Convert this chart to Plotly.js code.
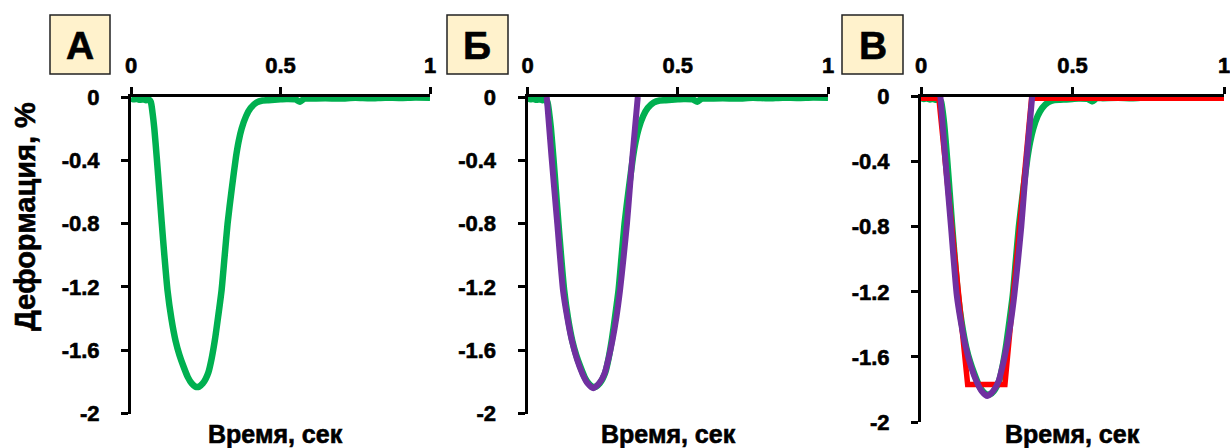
<!DOCTYPE html>
<html>
<head>
<meta charset="utf-8">
<script src="https://cdn.plot.ly/plotly-3.0.1.min.js"></script>
<style>
  html, body { margin: 0; padding: 0; background: #ffffff; }
  #chart { width: 1230px; height: 448px; }
  /* heavier black lettering */
  #chart text { stroke: #000; stroke-width: 0.6px; }
</style>
</head>
<body>
<div id="chart"></div>
<script>
// Measured strain curve (time, s / deformation, %)
const strainTime = [0.000, 0.010, 0.020, 0.030, 0.040, 0.050, 0.058, 0.066, 0.072, 0.078,
  0.086, 0.095, 0.103, 0.112, 0.122, 0.135, 0.149, 0.162, 0.175, 0.190,
  0.203, 0.215, 0.228, 0.240, 0.250, 0.259, 0.270, 0.281, 0.292, 0.303,
  0.313, 0.323, 0.337, 0.351, 0.360, 0.370, 0.385, 0.400, 0.420, 0.440,
  0.460, 0.480, 0.500, 0.520, 0.550, 0.565, 0.580, 0.600, 0.650, 0.700,
  0.750, 0.800, 0.850, 0.900, 0.950, 1.000];
const strainValue = [-0.010, -0.015, -0.012, -0.018, -0.015, -0.020, -0.015, -0.030, -0.100, -0.200,
  -0.380, -0.600, -0.800, -1.010, -1.220, -1.400, -1.540, -1.630, -1.700, -1.770,
  -1.810, -1.830, -1.830, -1.810, -1.780, -1.740, -1.650, -1.530, -1.380, -1.220,
  -1.010, -0.800, -0.580, -0.380, -0.280, -0.200, -0.120, -0.070, -0.035, -0.022,
  -0.020, -0.018, -0.015, -0.012, -0.015, -0.030, -0.010, -0.010, -0.008, -0.010,
  -0.005, -0.008, -0.004, -0.006, -0.003, -0.004];

// Smooth model curve (purple)
const modelTime = [0.064, 0.080, 0.099, 0.118, 0.132, 0.147, 0.165, 0.183, 0.200, 0.219,
  0.238, 0.256, 0.270, 0.283, 0.296, 0.308, 0.320, 0.331, 0.340, 0.349, 0.358, 0.367];
const modelValue = [0.000, -0.380, -0.800, -1.220, -1.390, -1.535, -1.660, -1.750, -1.810, -1.840,
  -1.810, -1.750, -1.650, -1.535, -1.390, -1.220, -1.010, -0.800, -0.590, -0.380, -0.190, 0.000];

// Trapezoidal approximation (red)
const trapTime = [0.000, 0.059, 0.154, 0.277, 0.365, 1.000];
const trapValue = [-0.010, -0.010, -1.770, -1.770, -0.010, -0.010];

// Axis ticks and labels
const xTickVals = [0, 0.5, 1];
const xTickText = ['0', '0.5', '1'];
const yTickVals = [0, -0.4, -0.8, -1.2, -1.6, -2];
const yTickText = ['0', '-0.4', '-0.8', '-1.2', '-1.6', '-2'];

const panelLetters = ['А', 'Б', 'В'];
const xTitle = 'Время, сек';
const yTitle = 'Деформация, %';

const GREEN = '#00B050', PURPLE = '#7030A0', RED = '#FF0000';
const W = 1230, H = 448;
const FONT = 'Liberation Sans, Arial, sans-serif';

function line(x, y, color, width, ax, smooth) {
  return {
    type: 'scatter', mode: 'lines', x: x, y: y,
    line: smooth ? { color: color, width: width, shape: 'spline', smoothing: 0.6 }
                 : { color: color, width: width },
    xaxis: 'x' + ax, yaxis: 'y' + ax, hoverinfo: 'skip'
  };
}

const data = [
  line(strainTime, strainValue, GREEN, 6.5, '', true),
  line(strainTime, strainValue, GREEN, 6.5, '2', true),
  line(modelTime, modelValue, PURPLE, 6, '2', true),
  line(strainTime, strainValue, GREEN, 6.5, '3', true),
  line(trapTime, trapValue, RED, 5.5, '3', false),
  line(modelTime, modelValue, PURPLE, 6, '3', true)
];

// panel plot areas in pixels: [left, right, top, bottom]
const panels = [
  [131, 430, 97, 413.5],
  [527.5, 828, 97, 413.5],
  [921, 1224, 96.5, 422]
];
const boxes = [[50, 110], [447, 508], [842, 903]];
const xTitleCenters = [275, 668, 1072];

const tickFont = { family: FONT, size: 22, color: '#000', weight: 'bold' };

function xAxis(p, anchor) {
  return {
    domain: [p[0] / W, p[1] / W], range: [0, 1], side: 'top', anchor: anchor,
    showline: true, linecolor: '#000', linewidth: 3,
    ticks: 'outside', ticklen: 7, tickwidth: 3, tickcolor: '#000',
    tickvals: xTickVals, ticktext: xTickText, tickfont: tickFont,
    ticklabelstandoff: 5, ticklabeloverflow: 'allow',
    showgrid: false, zeroline: false, fixedrange: true
  };
}
function yAxis(p, anchor) {
  return {
    domain: [1 - p[3] / H, 1 - p[2] / H], range: [-2, 0], anchor: anchor,
    showline: true, linecolor: '#000', linewidth: 3,
    ticks: 'outside', ticklen: 7, tickwidth: 3, tickcolor: '#000',
    tickvals: yTickVals, ticktext: yTickText, tickfont: tickFont,
    ticklabelstandoff: 17, ticklabeloverflow: 'allow',
    showgrid: false, zeroline: false, fixedrange: true
  };
}

const shapes = boxes.map(b => ({
  type: 'rect', xref: 'paper', yref: 'paper',
  x0: b[0] / W, x1: b[1] / W, y0: 1 - 74 / H, y1: 1 - 15 / H,
  fillcolor: '#FFF2CC', line: { color: '#222', width: 1.5 }, layer: 'below'
}));

const annotations = [];
boxes.forEach((b, i) => {
  annotations.push({
    xref: 'paper', yref: 'paper', x: (b[0] + b[1]) / 2 / W, y: 1 - 45 / H,
    text: panelLetters[i], showarrow: false, xanchor: 'center', yanchor: 'middle',
    font: { family: FONT, size: 39, color: '#000', weight: 'bold' }
  });
});
xTitleCenters.forEach(cx => {
  annotations.push({
    xref: 'paper', yref: 'paper', x: cx / W, y: 1 - 434 / H,
    text: xTitle, showarrow: false, xanchor: 'center', yanchor: 'middle',
    font: { family: FONT, size: 25, color: '#000', weight: 'bold' }
  });
});
annotations.push({
  xref: 'paper', yref: 'paper', x: 25 / W, y: 1 - 217 / H,
  text: yTitle, textangle: -90, showarrow: false, xanchor: 'center', yanchor: 'middle',
  font: { family: FONT, size: 29, color: '#000', weight: 'bold' }
});

const layout = {
  width: W, height: H,
  margin: { l: 0, r: 0, t: 0, b: 0, pad: 0 },
  paper_bgcolor: '#fff', plot_bgcolor: 'rgba(0,0,0,0)',
  showlegend: false,
  xaxis: xAxis(panels[0], 'y'), yaxis: yAxis(panels[0], 'x'),
  xaxis2: xAxis(panels[1], 'y2'), yaxis2: yAxis(panels[1], 'x2'),
  xaxis3: xAxis(panels[2], 'y3'), yaxis3: yAxis(panels[2], 'x3'),
  shapes: shapes, annotations: annotations
};

Plotly.newPlot('chart', data, layout, { displayModeBar: false, staticPlot: true });
</script>
</body>
</html>
